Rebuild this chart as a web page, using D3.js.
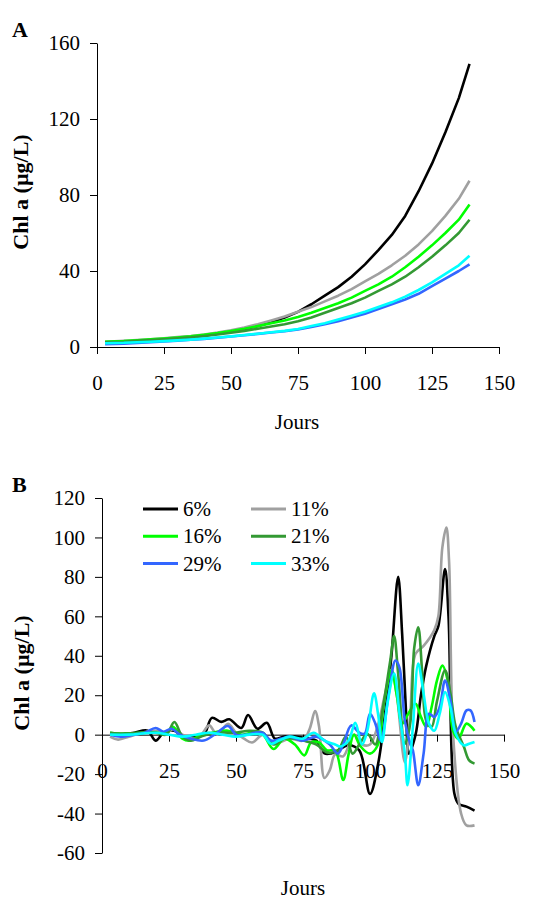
<!DOCTYPE html>
<html>
<head>
<meta charset="utf-8">
<script src="https://cdn.jsdelivr.net/npm/d3@7/dist/d3.min.js"></script>
<style>
    body { margin: 0; background: #fff; }
    text { font-family: "Liberation Serif", "Times New Roman", serif; fill: #000; }
    .axis text { font-size: 21px; }
    .axis path, .axis line { stroke: #000; }
</style>
</head>
<body>
<div id="chart"></div>
<script>

// series labels and colours (same order everywhere)
const seriesNames = ["6%", "11%", "16%", "21%", "29%", "33%"];
const seriesColors = ["#000000", "#a0a0a0", "#00ff00", "#339933", "#3366ff", "#00ffff"];

const ticksX = [0, 25, 50, 75, 100, 125, 150];
const ticksA = [0, 40, 80, 120, 160];
const ticksB = [-60, -40, -20, 0, 20, 40, 60, 80, 100, 120];

// Panel A - Chl a over time
const daysA = [3, 10, 15, 20, 25, 30, 35, 40, 45, 50, 55, 60, 65, 70, 75, 80, 85, 90, 95, 100, 105, 110, 115, 120, 125, 130, 135, 139];
const chlA6  = [2.5, 2.8, 3.2, 3.6, 4.1, 4.6, 5.2, 6.0, 7.0, 8.2, 9.5, 11, 13, 15.5, 18.5, 22.5, 27, 31.5, 37, 43.5, 51, 59, 69, 82, 96.5, 113, 131, 149];
const chlA11 = [2.8, 3.2, 3.6, 4.1, 4.6, 5.2, 5.8, 6.6, 7.6, 8.8, 10.2, 12, 14, 16, 18.5, 21, 24, 27, 30.5, 34.5, 38.5, 43, 48, 54, 61, 69, 78, 87.5];
const chlA16 = [2.8, 3.1, 3.5, 4.0, 4.5, 5.0, 5.6, 6.4, 7.3, 8.4, 9.6, 11, 12.5, 14, 15.8, 18, 20.5, 23, 26, 29.5, 33, 37, 42, 47.5, 53.5, 60, 67, 75];
const chlA21 = [2.5, 2.8, 3.2, 3.6, 4.1, 4.6, 5.1, 5.8, 6.6, 7.5, 8.5, 9.6, 10.8, 12, 13.5, 15.5, 18, 20.5, 23, 26, 29.5, 33, 37, 42, 47.5, 53.5, 60, 67];
const chlA29 = [1.5, 1.8, 2.1, 2.5, 2.9, 3.3, 3.8, 4.3, 4.9, 5.5, 6.2, 6.9, 7.6, 8.3, 9.2, 10.5, 12, 13.5, 15.5, 17.5, 20, 22.5, 25, 28, 32, 36, 40, 43.5];
const chlA33 = [2.0, 2.2, 2.5, 2.8, 3.1, 3.5, 3.9, 4.4, 5.0, 5.6, 6.3, 7.0, 7.8, 8.5, 9.5, 11, 12.5, 14.5, 16.5, 18.5, 21, 23.5, 26.5, 30, 34, 38.5, 43, 48];

// Panel B - residuals, each series read on its own days
const daysB6  = [3, 8, 12, 17, 20, 23, 27, 30, 34, 38, 41, 44.5, 47.5, 52, 54.5, 58, 61.5, 64.5, 68, 72, 77, 80, 83, 85.5, 88, 92, 96, 100, 103, 106, 108, 110.5, 112, 113.5, 114.5, 117, 119, 121, 124, 125.5, 128, 129.3, 131.5, 133, 136, 139];
const chlB6   = [0, 0.5, 1, 2, -3, 1, 2, -1, -1, 0, 8.5, 6.5, 7.8, 3.4, 10, 3, 6, -2, -1, -1, -2, -3, -9.5, -9.5, -8, -5.4, -8, -30, -15, 15, 40, 80, 51, 10, -9.6, 0, 20, 35, 50, 55, 84, 60, -30, -35, -36.5, -38.5];
const daysB11 = [3, 6, 10, 15, 20, 24, 27, 30, 34, 37, 40, 43, 47, 50, 53, 56, 60, 63, 66, 70, 75, 77.5, 79.5, 81, 83, 85, 87, 90, 94, 97, 100, 103, 105.5, 108, 110, 113, 115, 117, 120, 124, 125.5, 127, 128.5, 129.5, 131, 134, 136, 139];
const chlB11  = [-1, -2.5, -1, 1, 2, 1, 3, 0, -2, 0, 4.7, 0, 5.5, 1, -2, -4, 0, -3, -4, -2, -3, 3, 12, 4, -22, -18, -10, -11, 0, -5, -5, 5, 20, 33, 20, -14, 10, 41, 45, 53, 60, 95, 105, 88, 0, -40, -46, -46];
const daysB16 = [3, 8, 14, 20, 24, 26.5, 30, 33, 37, 41, 47, 52, 56, 60, 64, 68, 72, 75.5, 78, 81, 84, 87, 90, 92, 94, 96.5, 100, 103, 105, 108, 110, 112, 114, 117, 119, 121, 123, 125, 127, 129, 131, 133, 136, 139];
const chlB16  = [1, 0.5, 1, 1, 1, 4, -2, -3, 0, 1, 2, 0, 1, 0, -7.3, -2, -5, -10.5, -4, -4, -8, -8, -23, -10, 0, -6, -9.6, -5, 14, 32.6, 20, 5.6, 10, 15.7, 9, 4, 14, 27.5, 35, 27.5, 2, -2, 5.6, 2];
const daysB21 = [3, 8, 14, 20, 24, 27, 30, 33, 37, 42, 47, 50, 55, 60, 64, 68, 72, 75, 80, 84, 88, 91, 93.5, 96, 99, 102, 104, 107.5, 109, 110.5, 113, 115, 116.5, 118, 119.5, 121, 123, 125, 128, 130, 132, 135, 137, 139];
const chlB21  = [1, 0.5, 1, 1, 0, 6.4, -1, -3, -1, 1, 1, 1, 2, 1, -5, -2, -2, -3, -5, -9, -8, -1, -9.6, -5, 0.5, -5, 7, 37, 50, 31, -4.6, 5.6, 44, 54.5, 31, 7, 4, 17, 32.6, 21, 4, -6, -13, -14.7];
const daysB29 = [3, 7, 12, 16, 20, 23, 26, 29, 33, 38, 42, 47, 50, 54, 57, 60, 63, 67, 70, 75, 80, 85, 88, 90, 93, 96, 98, 100, 102, 104, 107, 109.5, 111, 113, 115, 116, 118, 120, 122, 124, 126, 128, 130, 132, 134, 136, 137.5, 139];
const chlB29  = [0, -1, 0, 1, 3.4, 1.5, 3, 0, -2, -3, 0, 4.4, 0, 0, 1, 1, -3, -2, -1, -3, -1, -5, -9.6, -5, 4.7, 1, 0.5, 10.6, 5.6, -3, 20.8, 37.6, 34, 7, -4.6, -8, -25.6, -9.6, 10.6, 9, 14, 27.5, 17.4, 1.4, 5.6, 12.3, 12.3, 6.4];
const daysB33 = [3, 10, 20, 25, 30, 35, 40, 45, 50, 55, 60, 63, 66, 70, 75, 79, 83, 87, 89, 92, 94.5, 97, 99, 101.5, 103, 104.5, 106.5, 109, 111, 113, 114, 116, 118, 120, 122, 124, 126, 128, 130, 132, 135, 137, 139];
const chlB33  = [0, 0, 1, 0, -1, 0, 1, 0, -1, 0, 0, -4.6, -3, -1, -2, 1, -3, -5, -6, -3, 6, -5, 2, 21, 10.6, -3.7, 15.7, 31, 10.6, -9.6, -25.6, 4, 36, 20.8, 5.6, 2, 10.6, 21.6, 14, 0.5, -5.4, -4.6, -3.7];


/* * * * * * * * * * * * * *
*      class ChlPanel      *
* * * * * * * * * * * * * */

class ChlPanel {

    constructor(svg, config) {
        this.svg = svg;
        this.config = config;
        this.initVis();
    }

    initVis() {
        let vis = this;
        let c = vis.config;

        vis.x = d3.scaleLinear().domain([0, 150]).range(c.xRange);
        vis.y = d3.scaleLinear().domain(c.yDomain).range(c.yRange);

        vis.g = vis.svg.append("g");

        // Y axis
        vis.g.append("g")
            .attr("class", "axis y-axis")
            .attr("transform", "translate(" + c.xRange[0] + ",0)")
            .call(d3.axisLeft(vis.y)
                .tickValues(c.yTicks)
                .tickSize(7)
                .tickSizeOuter(0)
                .tickPadding(10)
                .tickFormat(d => String(d)));

        // X axis, sits at y = 0
        vis.g.append("g")
            .attr("class", "axis x-axis")
            .attr("transform", "translate(0," + vis.y(0) + ")")
            .call(d3.axisBottom(vis.x)
                .tickValues(ticksX)
                .tickSize(7)
                .tickSizeOuter(0)
                .tickPadding(21)
                .tickFormat(d => String(d)));

        // Axis titles
        vis.g.append("text")
            .attr("x", c.jours[0])
            .attr("y", c.jours[1])
            .attr("text-anchor", "middle")
            .style("font-size", "21px")
            .text("Jours");

        vis.g.append("text")
            .attr("transform", "translate(" + c.yTitle[0] + "," + c.yTitle[1] + ") rotate(-90)")
            .attr("text-anchor", "middle")
            .style("font-size", "22px")
            .style("font-weight", "bold")
            .text("Chl a (µg/L)");

        // Panel letter
        vis.g.append("text")
            .attr("x", 12)
            .attr("y", c.letterY)
            .style("font-size", "22px")
            .style("font-weight", "bold")
            .text(c.letter);

        vis.updateVis();
    }

    updateVis() {
        let vis = this;
        let c = vis.config;

        let line = d3.line()
            .x(d => vis.x(d.day))
            .y(d => vis.y(d.value))
            .curve(c.curve);

        let lineData = c.series.map((s, i) => ({
            color: seriesColors[i],
            points: s.days.map((day, j) => ({day: day, value: s.values[j]}))
        }));

        vis.g.selectAll(".chl-line")
            .data(lineData)
            .enter()
            .append("path")
            .attr("class", "chl-line")
            .attr("fill", "none")
            .attr("stroke", d => d.color)
            .attr("stroke-width", 2.6)
            .attr("stroke-linejoin", "round")
            .attr("d", d => line(d.points));
    }
}


let svg = d3.select("#chart").append("svg")
    .attr("width", 544)
    .attr("height", 902);

let panelA = new ChlPanel(svg, {
    letter: "A",
    letterY: 37,
    xRange: [97, 499],
    yDomain: [0, 160],
    yRange: [347, 43],
    yTicks: ticksA,
    jours: [297, 429],
    yTitle: [28, 192],
    curve: d3.curveLinear,
    series: [
        {days: daysA, values: chlA6},
        {days: daysA, values: chlA11},
        {days: daysA, values: chlA16},
        {days: daysA, values: chlA21},
        {days: daysA, values: chlA29},
        {days: daysA, values: chlA33}
    ]
});

let panelB = new ChlPanel(svg, {
    letter: "B",
    letterY: 492,
    xRange: [102, 504],
    yDomain: [-60, 120],
    yRange: [853, 498],
    yTicks: ticksB,
    jours: [303, 895],
    yTitle: [29, 673],
    curve: d3.curveCatmullRom.alpha(0.5),
    series: [
        {days: daysB6, values: chlB6},
        {days: daysB11, values: chlB11},
        {days: daysB16, values: chlB16},
        {days: daysB21, values: chlB21},
        {days: daysB29, values: chlB29},
        {days: daysB33, values: chlB33}
    ]
});

// Legend for panel B, two columns by three rows
let legend = svg.append("g").attr("class", "legend");

let legendItems = legend.selectAll(".legend-item")
    .data(seriesNames)
    .enter()
    .append("g")
    .attr("class", "legend-item")
    .attr("transform", (d, i) => "translate(" + (i % 2 === 0 ? 143 : 251) + "," + (509 + Math.floor(i / 2) * 27.3) + ")");

legendItems.append("line")
    .attr("x1", 0)
    .attr("x2", 35)
    .attr("y1", 0)
    .attr("y2", 0)
    .attr("stroke", (d, i) => seriesColors[i])
    .attr("stroke-width", 3);

legendItems.append("text")
    .attr("x", 40)
    .attr("y", 7)
    .style("font-size", "21px")
    .text(d => d);

</script>
</body>
</html>
